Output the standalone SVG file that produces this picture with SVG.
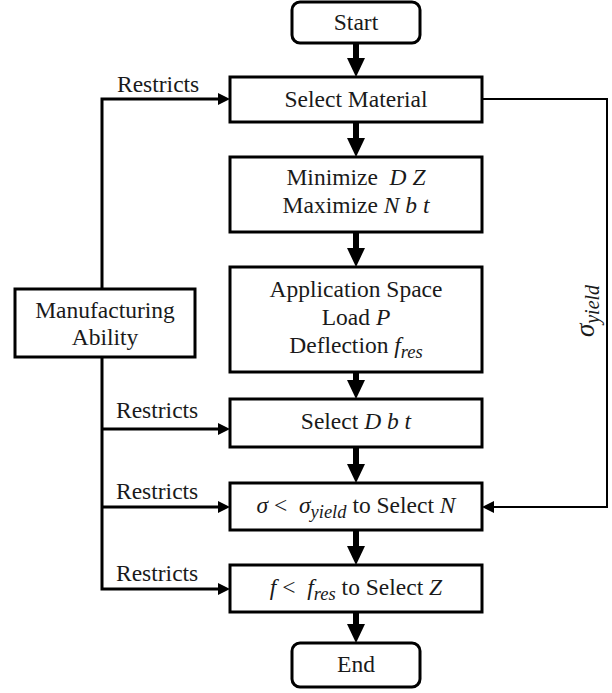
<svg xmlns="http://www.w3.org/2000/svg" width="612" height="693" viewBox="0 0 612 693">
<defs>
<style>
.box{fill:#fff;stroke:#000;stroke-width:3}
.t{font-family:'Liberation Serif','Times New Roman',serif;font-size:23.5px;fill:#1a1a1a;text-anchor:middle}
.lbl{font-family:'Liberation Serif','Times New Roman',serif;font-size:23.5px;fill:#1a1a1a}
.i{font-style:italic}
.sub{font-style:italic;font-size:18.5px}
.main{stroke:#000;stroke-width:6;fill:none}
.side{stroke:#000;stroke-width:3;fill:none}
.rside{stroke:#000;stroke-width:2;fill:none}
</style>
<marker id="big" markerUnits="userSpaceOnUse" markerWidth="19" markerHeight="18" refX="0" refY="9" orient="auto">
<path d="M0,0 L19,9 L0,18 z" fill="#000"/>
</marker>
<marker id="small" markerUnits="userSpaceOnUse" markerWidth="12" markerHeight="12" refX="0" refY="6" orient="auto">
<path d="M0,0 L12,6 L0,12 z" fill="#000"/>
</marker>
</defs>
<rect width="612" height="693" fill="#fff"/>

<g id="connectors">
<line class="main" x1="356" y1="43" x2="356" y2="58" marker-end="url(#big)"/>
<line class="main" x1="356" y1="122" x2="356" y2="138" marker-end="url(#big)"/>
<line class="main" x1="356" y1="232" x2="356" y2="248" marker-end="url(#big)"/>
<line class="main" x1="356" y1="372" x2="356" y2="380" marker-end="url(#big)"/>
<line class="main" x1="356" y1="447" x2="356" y2="464" marker-end="url(#big)"/>
<line class="main" x1="356" y1="530" x2="356" y2="546" marker-end="url(#big)"/>
<line class="main" x1="356" y1="612" x2="356" y2="624" marker-end="url(#big)"/>
<polyline class="side" points="102,289 102,99 218,99" marker-end="url(#small)"/>
<polyline class="side" points="102,357 102,589 218,589" marker-end="url(#small)"/>
<line class="side" x1="102" y1="429" x2="218" y2="429" marker-end="url(#small)"/>
<line class="side" x1="102" y1="507" x2="218" y2="507" marker-end="url(#small)"/>
<polyline class="rside" points="482,99 607,99 607,507 494,507" marker-end="url(#small)"/>
<text class="lbl" x="117" y="92">Restricts</text>
<text class="lbl" x="116" y="418">Restricts</text>
<text class="lbl" x="116" y="499">Restricts</text>
<text class="lbl" x="116" y="581">Restricts</text>
<text class="lbl i" style="font-size:27px" transform="translate(594,311) rotate(-90)" text-anchor="middle">σ<tspan class="sub" style="font-size:20px" dy="5">yield</tspan></text>
</g>

<g id="start">
<rect class="box" x="292" y="2" width="128" height="41" rx="8"/>
<text class="t" x="356" y="30">Start</text>
</g>
<g id="select-material">
<rect class="box" x="230" y="77" width="252" height="45"/>
<text class="t" x="356" y="107">Select Material</text>
</g>
<g id="minimize">
<rect class="box" x="230" y="157" width="252" height="75"/>
<text class="t" x="356" y="185" xml:space="preserve">Minimize  <tspan class="i">D Z</tspan></text>
<text class="t" x="356" y="213">Maximize <tspan class="i">N b t</tspan></text>
</g>
<g id="application">
<rect class="box" x="230" y="267" width="252" height="105"/>
<text class="t" x="356" y="297">Application Space</text>
<text class="t" x="356" y="325">Load <tspan class="i">P</tspan></text>
<text class="t" x="356" y="353">Deflection <tspan class="i">f</tspan><tspan class="sub" dy="5">res</tspan></text>
</g>
<g id="select-dbt">
<rect class="box" x="230" y="399" width="252" height="48"/>
<text class="t" x="356" y="429">Select <tspan class="i">D b t</tspan></text>
</g>
<g id="select-n">
<rect class="box" x="230" y="483" width="252" height="47"/>
<text class="t" x="356" y="513" xml:space="preserve"><tspan class="i">σ</tspan> &lt;  <tspan class="i">σ</tspan><tspan class="sub" dy="5">yield</tspan><tspan dy="-5"> to Select </tspan><tspan class="i">N</tspan></text>
</g>
<g id="select-z">
<rect class="box" x="230" y="565" width="252" height="47"/>
<text class="t" x="356" y="595" xml:space="preserve"><tspan class="i">f</tspan> &lt;  <tspan class="i">f</tspan><tspan class="sub" dy="5">res</tspan><tspan dy="-5"> to Select </tspan><tspan class="i">Z</tspan></text>
</g>
<g id="end">
<rect class="box" x="292" y="643" width="128" height="44" rx="8"/>
<text class="t" x="356" y="672">End</text>
</g>
<g id="manufacturing">
<rect class="box" x="15" y="289" width="180" height="68"/>
<text class="t" x="105" y="318">Manufacturing</text>
<text class="t" x="105" y="345">Ability</text>
</g>
</svg>
